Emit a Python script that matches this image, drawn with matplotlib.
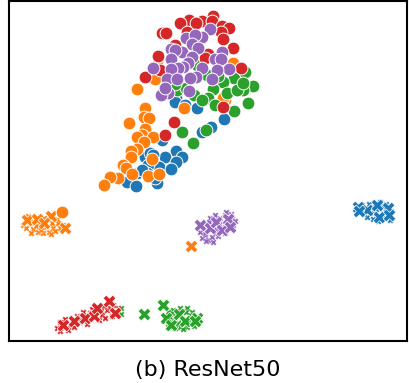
import matplotlib
matplotlib.use("Agg")
import matplotlib.pyplot as plt

# values, y runs downwards
blue_x = [176, 175, 185, 197, 224, 211, 202, 162, 176, 165, 182, 176, 145, 150, 153, 159, 171, 148, 137, 127, 136, 157, 147, 155, 142]
blue_y = [98, 102, 105, 108, 119, 127, 132, 140, 151, 157, 157, 162, 157, 153, 155, 167, 169, 165, 173, 182, 186, 183, 173, 178, 170]
orange_x = [157, 233, 137, 155, 145, 144, 149, 129, 145, 142, 137, 153, 144, 137, 131, 131, 152, 123, 126, 132, 148, 159, 118, 110, 104, 184, 225, 223]
orange_y = [65, 63, 89, 79, 108, 117, 118, 123, 129, 135, 137, 137, 142, 149, 151, 157, 159, 165, 168, 174, 176, 174, 178, 177, 185, 108, 100, 98]
green_x = [253, 243, 234, 223, 227, 213, 245, 208, 194, 177, 237, 243, 248, 234, 208, 202, 215, 182, 193, 206, 197, 207, 186, 218, 175]
green_y = [86, 90, 78, 82, 93, 89, 72, 98, 95, 90, 90, 83, 103, 111, 98, 100, 105, 132, 143, 130, 65, 75, 88, 76, 84]
red_x = [213, 189, 202, 212, 180, 196, 222, 229, 221, 162, 166, 187, 223, 233, 175, 158, 208, 205, 160, 241, 145, 223, 174, 165]
red_y = [16, 20, 21, 21, 23, 23, 26, 28, 32, 33, 33, 32, 39, 48, 45, 56, 54, 58, 70, 68, 77, 107, 122, 135]
purple_x = [210, 202, 186, 195, 192, 198, 171, 182, 175, 222, 192, 171, 215, 221, 188, 153, 202, 229, 183, 178, 171, 217, 196, 167, 177, 212, 190, 189, 168, 161, 165]
purple_y = [29, 37, 38, 35, 44, 48, 49, 52, 50, 52, 57, 59, 59, 59, 63, 68, 68, 69, 67, 68, 69, 70, 77, 79, 79, 79, 78, 91, 93, 95, 88]
orange_big_x = [62]
orange_big_y = [212]

blue_cross_x = [367, 377, 388, 379, 389, 358, 359]
blue_cross_y = [210, 205, 208, 217, 215, 207, 211]
orange_cross_x = [27, 37, 51, 44, 65, 191]
orange_cross_y = [220, 219, 216, 223, 228, 246]
green_cross_x = [144, 163, 166, 171, 179, 185, 197, 195]
green_cross_y = [314, 305, 318, 325, 314, 321, 318, 321]
red_cross_x = [63, 74, 85, 94, 97, 109, 115]
red_cross_y = [325, 321, 318, 316, 308, 301, 313]
purple_cross_x = [200, 210, 216, 222, 228, 230]
purple_cross_y = [225, 228, 222, 230, 219, 227]

blue_small_x = [367, 372, 383, 373, 383, 390, 382, 362, 376, 369, 386, 378, 364, 391, 380, 373]
blue_small_y = [217, 207, 207, 213, 218, 220, 212, 205, 209, 204, 204, 221, 214, 211, 202, 219]
orange_small_x = [23, 33, 38, 43, 49, 53, 58, 52, 40, 35, 60, 30, 26, 36, 46, 55, 41, 31, 48, 57, 63, 44, 28, 51]
orange_small_y = [225, 229, 232, 233, 232, 228, 223, 223, 227, 223, 228, 222, 228, 226, 227, 231, 230, 233, 219, 219, 225, 218, 216, 234]
green_small_x = [173, 180, 187, 192, 170, 175, 180, 187, 192, 165, 168, 175, 192, 121, 121, 177, 183, 190, 172, 182, 188, 178, 170, 186, 194, 176, 183, 168]
green_small_y = [310, 308, 308, 312, 317, 320, 327, 327, 323, 321, 327, 328, 317, 308, 314, 312, 311, 315, 313, 318, 322, 323, 322, 312, 326, 316, 329, 312]
red_small_x = [57, 65, 70, 80, 90, 88, 102, 107, 105, 110, 60, 77, 68, 83, 92, 99, 104, 112, 95, 87, 74, 118, 113, 101, 80, 60]
red_small_y = [328, 319, 325, 322, 313, 320, 315, 310, 318, 308, 322, 316, 330, 312, 309, 320, 306, 316, 312, 324, 327, 308, 305, 311, 318, 331]
purple_small_x = [202, 205, 208, 212, 207, 210, 215, 220, 225, 232, 233, 215, 225, 205, 218, 230, 200, 212, 220, 227, 235, 204, 216, 222, 209, 231, 214, 226, 219, 206, 203, 213]
purple_small_y = [238, 235, 240, 237, 230, 218, 215, 218, 215, 218, 228, 233, 233, 233, 236, 222, 232, 225, 224, 224, 221, 226, 229, 227, 222, 214, 220, 212, 230, 241, 229, 242]

blue = "#1f77b4"
orange = "#ff7f0e"
green = "#2ca02c"
red = "#d62728"
purple = "#9467bd"

fig = plt.figure(figsize=(4.09, 3.83), dpi=100)
ax = fig.add_axes([9 / 409, 42 / 383, 398 / 409, 340 / 383])

circles = [(blue_x, blue_y, blue), (orange_x, orange_y, orange), (green_x, green_y, green),
           (red_x, red_y, red), (purple_x, purple_y, purple), (orange_big_x, orange_big_y, orange)]
crosses = [(blue_cross_x, blue_cross_y, blue), (orange_cross_x, orange_cross_y, orange),
           (green_cross_x, green_cross_y, green), (red_cross_x, red_cross_y, red),
           (purple_cross_x, purple_cross_y, purple)]
smalls = [(blue_small_x, blue_small_y, blue), (orange_small_x, orange_small_y, orange),
          (green_small_x, green_small_y, green), (red_small_x, red_small_y, red),
          (purple_small_x, purple_small_y, purple)]

for xs, ys, c in smalls:
    ax.scatter(xs, ys, s=20, marker="X", color=c, edgecolor="white", linewidth=0.2)
for xs, ys, c in crosses:
    ax.scatter(xs, ys, s=85, marker="X", color=c, edgecolor="white", linewidth=0.5)
for xs, ys, c in circles:
    ax.scatter(xs, ys, s=85, marker="o", color=c, edgecolor="white", linewidth=0.7)

ax.set_xlim(9, 407)
ax.set_ylim(341, 1)
ax.set_xticks([])
ax.set_yticks([])
for spine in ax.spines.values():
    spine.set_linewidth(1.5)

fig.text(208 / 409, 1 - 370 / 383, "(b) ResNet50", ha="center", va="center", fontsize=16)

fig.savefig("out.png", dpi=100)
